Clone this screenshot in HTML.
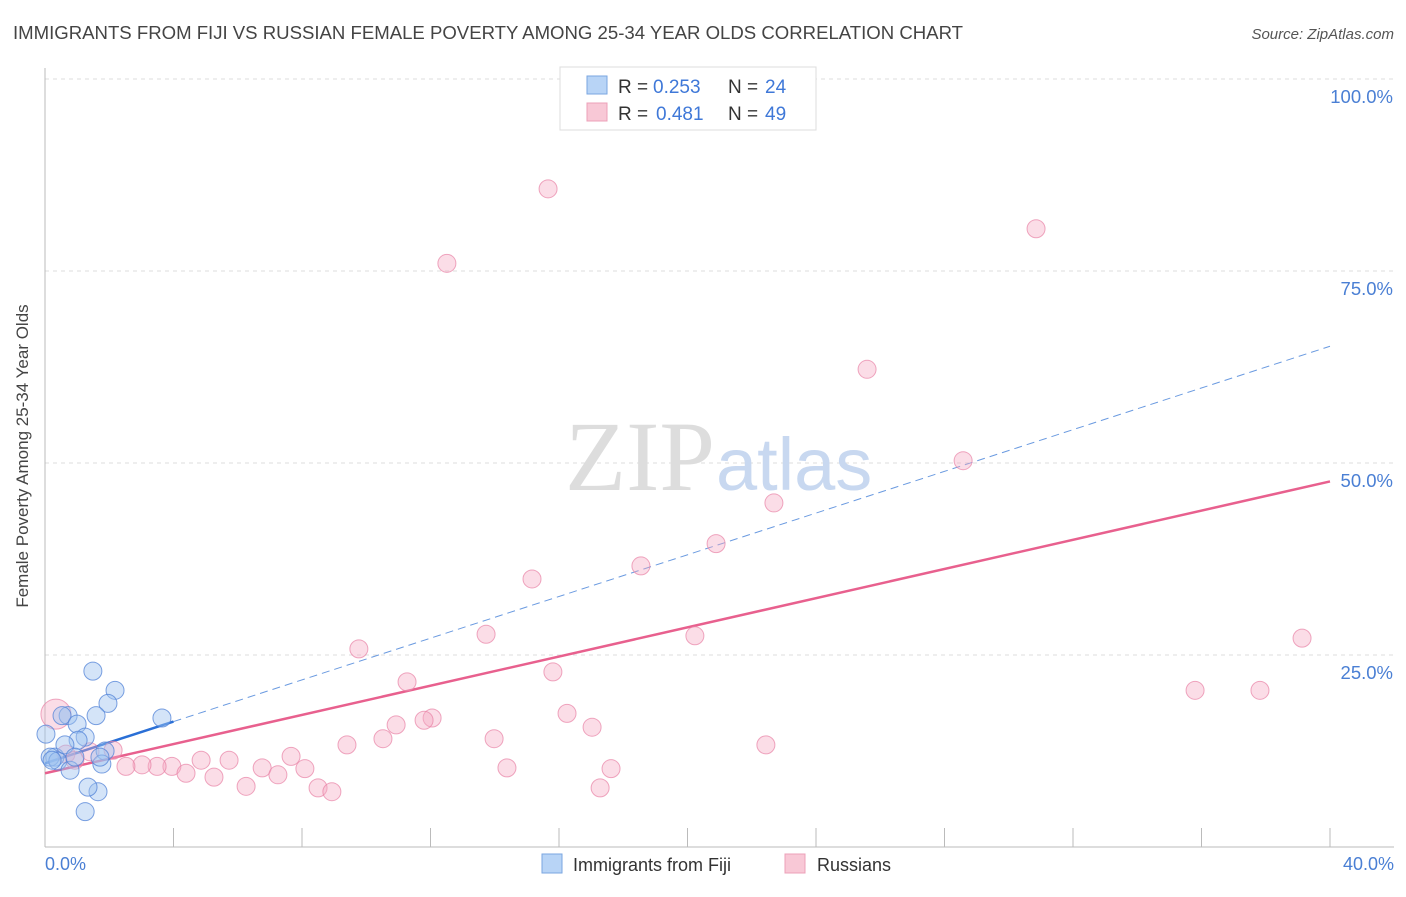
<!DOCTYPE html>
<html><head><meta charset="utf-8"><style>
body{margin:0;background:#fff;font-family:"Liberation Sans",sans-serif}
</style></head><body>
<svg width="1406" height="892" xmlns="http://www.w3.org/2000/svg">
<text x="13" y="39" font-size="18.6" fill="#444" textLength="950">IMMIGRANTS FROM FIJI VS RUSSIAN FEMALE POVERTY AMONG 25-34 YEAR OLDS CORRELATION CHART</text>
<text x="1394" y="39" font-size="15" fill="#555" font-style="italic" text-anchor="end">Source: ZipAtlas.com</text>
<g id="grid"></g>
<text x="715" y="490" font-size="100" fill="#ddd" text-anchor="end" font-family="Liberation Serif,serif">ZIP</text>
<text x="716" y="490" font-size="74" fill="#c8d8f0">atlas</text>
<line x1="45" y1="68" x2="45" y2="847" stroke="#bbb"/>
<line x1="45" y1="847" x2="1394" y2="847" stroke="#bbb"/>
<g id="lines"></g><g id="pts"></g>
<text x="28" y="456" font-size="17" fill="#444" text-anchor="middle" transform="rotate(-90 28 456)">Female Poverty Among 25-34 Year Olds</text>
<text x="45" y="870" font-size="18" fill="#4a7fd4">0.0%</text>
<text x="1394" y="870" font-size="18" fill="#4a7fd4" text-anchor="end">40.0%</text>
<g>
<rect x="560" y="67" width="256" height="63" fill="#fff" stroke="#ddd"/>
<rect x="587" y="76" width="20" height="18" fill="#b8d4f6" stroke="#7aa6e0"/>
<rect x="587" y="103" width="20" height="18" fill="#f8c8d6" stroke="#eca0b8"/>
<text x="618" y="93" font-size="19" fill="#333">R =</text>
<text x="653" y="93" font-size="19" fill="#3f78d8">0.253</text>
<text x="728" y="93" font-size="19" fill="#333">N =</text>
<text x="765" y="93" font-size="19" fill="#3f78d8">24</text>
<text x="618" y="120" font-size="19" fill="#333">R =</text>
<text x="656" y="120" font-size="19" fill="#3f78d8">0.481</text>
<text x="728" y="120" font-size="19" fill="#333">N =</text>
<text x="765" y="120" font-size="19" fill="#3f78d8">49</text>
</g>
<g>
<rect x="542" y="854" width="20" height="19" fill="#b8d4f6" stroke="#7aa6e0"/>
<text x="573" y="871" font-size="18" fill="#333">Immigrants from Fiji</text>
<rect x="785" y="854" width="20" height="19" fill="#f8c8d6" stroke="#eca0b8"/>
<text x="817" y="871" font-size="18" fill="#333">Russians</text>
</g>
</svg>
<script>
const yTicks=[25,50,75,100];
const xTicks=[0,4,8,12,16,20,24,28,32,36,40];
const fijiX=[1.49,2.18,1.96,1.59,0.72,0.53,1.0,1.25,1.03,1.87,0.31,0.16,0.4,0.78,1.77,1.65,1.34,1.25,3.64,0.03,0.62,1.71,0.22,0.93];
const fijiY=[22.9,20.4,18.7,17.1,17.1,17.1,16.0,14.3,13.9,12.5,11.7,11.7,11.2,10.0,10.8,7.2,7.8,4.6,16.8,14.7,13.3,11.7,11.3,11.7];
const rusX=[15.66,12.51,30.85,25.59,28.58,22.69,20.89,18.55,15.16,13.73,9.77,39.13,20.23,15.81,11.27,35.8,37.82,12.05,11.8,16.25,10.93,17.03,10.52,13.98,9.4,22.44,7.66,2.12,5.73,4.86,3.95,3.49,3.02,2.52,4.39,6.76,8.09,5.26,7.25,14.38,17.62,6.26,8.5,8.93,17.28,0.65,0.34,1.4,0.93];
const rusY=[85.7,76.0,80.5,62.2,50.3,44.8,39.5,36.6,34.9,27.7,25.8,27.2,27.5,22.8,21.5,20.4,20.4,16.8,16.5,17.4,15.9,15.6,14.1,14.1,13.3,13.3,11.8,12.6,11.3,11.3,10.5,10.5,10.7,10.5,9.6,10.3,10.2,9.1,9.4,10.3,10.2,7.9,7.7,7.2,7.7,12.1,17.3,12.4,11.3];
const fijiTrend=[10.9,65.2];
const rusTrend=[9.6,47.6];
const sx=v=>45+v/40*1285, sy=v=>847-v/100*768;
const NS="http://www.w3.org/2000/svg";
function mk(t,a,p){const e=document.createElementNS(NS,t);for(const k in a)e.setAttribute(k,a[k]);p.appendChild(e);return e;}
const grid=document.getElementById('grid');
yTicks.forEach(t=>{const l=mk('line',{x1:45,x2:1394,y1:sy(t),y2:sy(t),stroke:'#ddd','stroke-dasharray':'4,4'},grid);


const tx=mk('text',{x:1393,y:sy(t)+24,'font-size':18.5,fill:'#4a7fd4','text-anchor':'end'},grid);tx.textContent=t.toFixed(1)+'%';

});
xTicks.slice(1).forEach(t=>{const l=mk('line',{x1:sx(t),x2:sx(t),y1:828,y2:847,stroke:'#bbb'},grid);

});
const ln=document.getElementById('lines');
let a=mk('line',{x1:sx(0),y1:sy(fijiTrend[0]),x2:sx(4),y2:sy(fijiTrend[0]+(fijiTrend[1]-fijiTrend[0])*0.1),stroke:'#2a6fd6','stroke-width':2.5},ln);


a=mk('line',{x1:sx(4),y1:sy(fijiTrend[0]+(fijiTrend[1]-fijiTrend[0])*0.1),x2:sx(40),y2:sy(fijiTrend[1]),stroke:'#6a9ae0','stroke-width':1,'stroke-dasharray':'8,5'},ln);


a=mk('line',{x1:sx(0),y1:sy(rusTrend[0]),x2:sx(40),y2:sy(rusTrend[1]),stroke:'#e8608e','stroke-width':2.5},ln);


const pts=document.getElementById('pts');
rusX.forEach((x,i)=>{const c=mk('circle',{cx:sx(x),cy:sy(rusY[i]),r:(i==46?15:9),fill:'rgba(244,170,195,0.4)',stroke:'rgba(232,130,165,0.7)'},pts);

});
fijiX.forEach((x,i)=>{const c=mk('circle',{cx:sx(x),cy:sy(fijiY[i]),r:9,fill:'rgba(160,195,240,0.45)',stroke:'rgba(80,130,215,0.75)'},pts);

});
</script>
</body></html>
